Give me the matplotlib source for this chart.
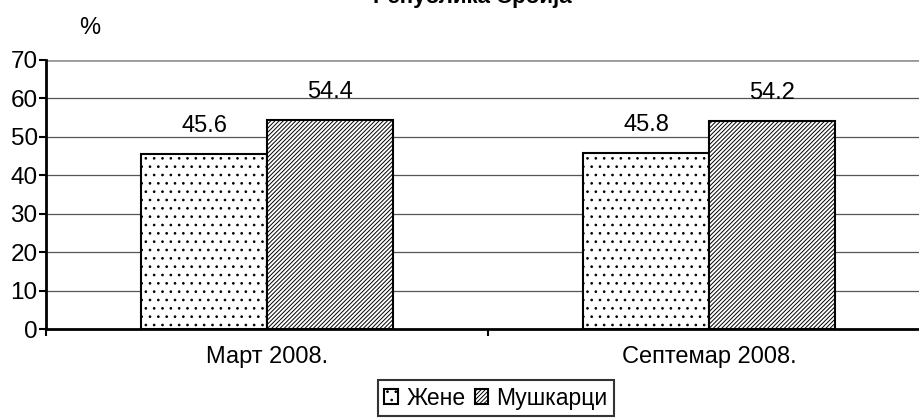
import matplotlib.pyplot as plt
import numpy as np

plt.rcParams['font.family'] = ['Liberation Sans', 'DejaVu Sans']
plt.rcParams['hatch.linewidth'] = 0.7

# datos
periodos = ['Март 2008.', 'Септемар 2008.']
zene = [45.6, 45.8]
muskarci = [54.4, 54.2]
series = ['Жене', 'Мушкарци']

fig = plt.figure(figsize=(9.19, 4.19), dpi=100)
ax = fig.add_axes([46 / 919, 90 / 419, 884 / 919, 269 / 419])

x = np.arange(len(periodos))
w = 0.285
b1 = ax.bar(x - w / 2, zene, w, color='white', edgecolor='black', linewidth=1.5,
            hatch='..', label=series[0], zorder=3)
b2 = ax.bar(x + w / 2, muskarci, w, color='white', edgecolor='black', linewidth=1.5,
            hatch='////////', label=series[1], zorder=3)

for bars, vals in [(b1, zene), (b2, muskarci)]:
    for r, v in zip(bars, vals):
        ax.annotate(f'{v:.1f}', (r.get_x() + r.get_width() / 2, v), xytext=(0, 12),
                    textcoords='offset points', ha='center', va='bottom', fontsize=17)

ax.set_xlim(-0.5, 1.5)
ax.set_ylim(0, 70)
ax.set_yticks(range(0, 71, 10))
ax.tick_params(axis='y', labelsize=17.5, length=5, width=1.5, direction='out', pad=1)

ax.set_xticks([-0.5, 0.5, 1.5])
ax.set_xticklabels([])
ax.set_xticks(x, minor=True)
ax.set_xticklabels(periodos, minor=True)
ax.tick_params(axis='x', which='major', length=5, width=1.5, direction='out')
ax.tick_params(axis='x', which='minor', length=0, labelsize=17, pad=12)

for y in range(10, 70, 10):
    ax.axhline(y, color='#555555', linewidth=0.9, zorder=1)
ax.axhline(70, color='#999999', linewidth=2, zorder=1)

ax.spines['top'].set_visible(False)
ax.spines['right'].set_visible(False)
ax.spines['left'].set_linewidth(2)
ax.spines['bottom'].set_linewidth(2)

fig.text(90 / 919, 1 - 28 / 419, '%', fontsize=17, ha='center', va='center')
fig.text(472 / 919, 1 - 3 / 419, 'Република Србија', fontsize=16, fontweight='bold',
         ha='center', va='baseline')

leg = fig.legend(handles=[b1, b2], loc='center', bbox_to_anchor=(496 / 919, 1 - 398 / 419),
                 ncol=2, fontsize=16.5, frameon=True, fancybox=False, handlelength=0.6,
                 handleheight=0.6, handletextpad=0.35, columnspacing=0.4,
                 borderpad=0.3, borderaxespad=0)
leg.get_frame().set_edgecolor('black')
leg.get_frame().set_linewidth(1.5)

fig.savefig('out.png', dpi=100)
